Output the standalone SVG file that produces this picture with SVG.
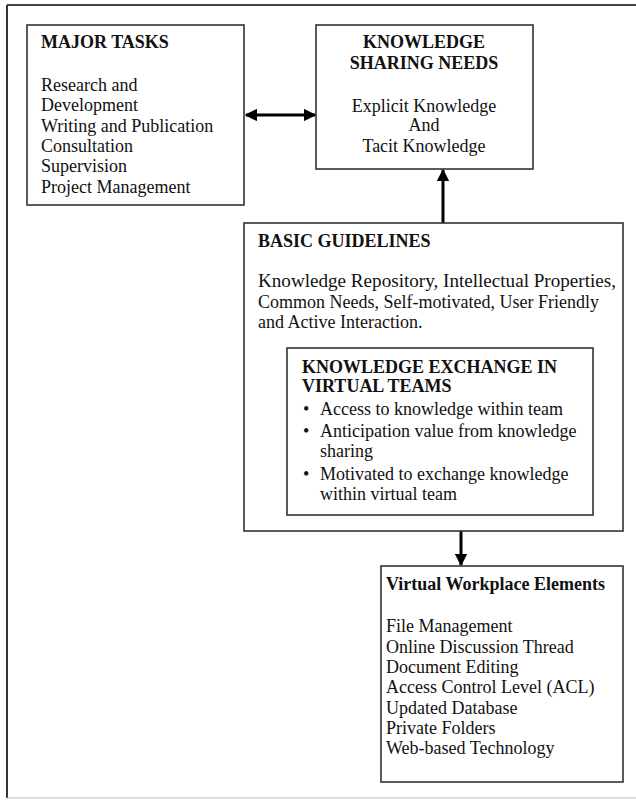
<svg xmlns="http://www.w3.org/2000/svg" width="636" height="800" viewBox="0 0 636 800">
<style>
.box{fill:#fff;stroke:#333;stroke-width:1.6}
text{font-family:"Liberation Serif","Times New Roman",serif;font-size:18px;fill:#111}
.b{font-weight:bold}
.c{text-anchor:middle}
.conn{stroke:#000;stroke-width:3;fill:none}
</style>
<defs>
<marker id="ah" viewBox="0 0 10 10" refX="9" refY="5" markerWidth="4.2" markerHeight="4.2" orient="auto-start-reverse" markerUnits="strokeWidth">
<path d="M0,0 L10,5 L0,10 z" fill="#000"/>
</marker>
</defs>
<rect width="636" height="800" fill="#fff"/>
<g id="frame">
<line x1="7" y1="5" x2="636" y2="5" stroke="#444" stroke-width="2"/>
<line x1="7" y1="5" x2="7" y2="798" stroke="#333" stroke-width="2"/>
<line x1="7" y1="798" x2="636" y2="798" stroke="#bbb" stroke-width="1.2"/>
</g>
<g id="connectors">
<line class="conn" x1="246" y1="115" x2="315" y2="115" marker-start="url(#ah)" marker-end="url(#ah)"/>
<line class="conn" x1="443" y1="223" x2="443" y2="170" marker-end="url(#ah)"/>
<line class="conn" x1="461" y1="531" x2="461" y2="565" marker-end="url(#ah)"/>
</g>
<g id="major-tasks">
<rect class="box" x="27" y="25" width="217" height="180"/>
<text class="b" x="41" y="48">MAJOR TASKS</text>
<text x="41" y="91">Research and</text>
<text x="41" y="111">Development</text>
<text x="41" y="131.5">Writing and Publication</text>
<text x="41" y="152">Consultation</text>
<text x="41" y="172">Supervision</text>
<text x="41" y="192.5">Project Management</text>
</g>
<g id="knowledge-sharing-needs">
<rect class="box" x="316" y="25" width="217" height="144"/>
<text class="b c" x="424" y="48">KNOWLEDGE</text>
<text class="b c" x="424" y="69">SHARING NEEDS</text>
<text class="c" x="424" y="111.5">Explicit Knowledge</text>
<text class="c" x="424" y="131">And</text>
<text class="c" x="424" y="151.5">Tacit Knowledge</text>
</g>
<g id="basic-guidelines">
<rect class="box" x="244" y="223" width="379" height="308"/>
<text class="b" x="258" y="247">BASIC GUIDELINES</text>
<text x="258" y="287" textLength="358" lengthAdjust="spacingAndGlyphs">Knowledge Repository, Intellectual Properties,</text>
<text x="258" y="308">Common Needs, Self-motivated, User Friendly</text>
<text x="258" y="328">and Active Interaction.</text>
</g>
<g id="knowledge-exchange">
<rect class="box" x="287" y="348" width="306" height="167"/>
<text class="b" x="302" y="373">KNOWLEDGE EXCHANGE IN</text>
<text class="b" x="302" y="392">VIRTUAL TEAMS</text>
<text x="303" y="415">•</text>
<text x="320" y="415">Access to knowledge within team</text>
<text x="303" y="437">•</text>
<text x="320" y="437">Anticipation value from knowledge</text>
<text x="320" y="457">sharing</text>
<text x="303" y="480">•</text>
<text x="320" y="480">Motivated to exchange knowledge</text>
<text x="320" y="500">within virtual team</text>
</g>
<g id="virtual-workplace-elements">
<rect class="box" x="381" y="566" width="242" height="216"/>
<text class="b" x="386" y="590">Virtual Workplace Elements</text>
<text x="386" y="632">File Management</text>
<text x="386" y="652.5">Online Discussion Thread</text>
<text x="386" y="673">Document Editing</text>
<text x="386" y="693">Access Control Level (ACL)</text>
<text x="386" y="713.5">Updated Database</text>
<text x="386" y="734">Private Folders</text>
<text x="386" y="754">Web-based Technology</text>
</g>
</svg>
